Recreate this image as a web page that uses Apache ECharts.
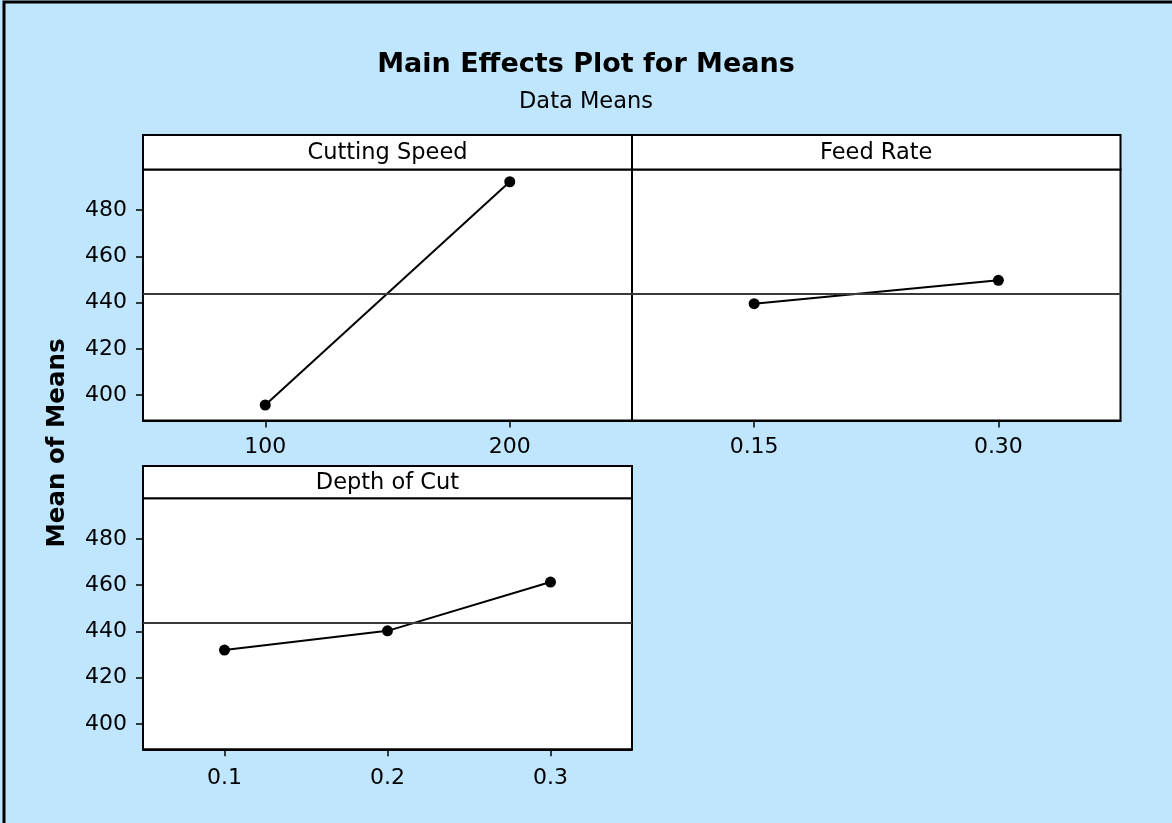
<!DOCTYPE html>
<html>
<head>
<meta charset="utf-8">
<style>
  html, body { margin: 0; padding: 0; background: #BFE6FD; }
  #chart { width: 1172px; height: 823px; }
</style>
<script src="https://cdn.jsdelivr.net/npm/echarts@6/dist/echarts.min.js"></script>
</head>
<body>
<div id="chart"></div>
<script>
// ---- Data ----
const panelTitles = ['Cutting Speed', 'Feed Rate', 'Depth of Cut'];
const speedLevels = ['100', '200'];
const speedMeans = [395.7, 492.2];
const feedLevels = ['0.15', '0.30'];
const feedMeans = [439.5, 449.6];
const depthLevels = ['0.1', '0.2', '0.3'];
const depthMeans = [431.9, 440.2, 461.3];
const grandMean = 443.6;
const yTicks = [400, 420, 440, 460, 480];
const yMin = 389, yMax = 497.5;

const FONT = 'DejaVu Sans';
const chart = echarts.init(document.getElementById('chart'));

const grids = [
  { left: 143, top: 169.5, width: 489, height: 251 },
  { left: 632, top: 169.5, width: 488.5, height: 251 },
  { left: 143, top: 498.3, width: 489, height: 251 }
];
const headers = [
  { x: 143, y: 135, w: 489, h: 34.5 },
  { x: 632, y: 135, w: 488.5, h: 34.5 },
  { x: 143, y: 466, w: 489, h: 32.3 }
];
const levels = [speedLevels, feedLevels, depthLevels];
const means = [speedMeans, feedMeans, depthMeans];
const labelMargins = [16, 16, 18];

const xAxes = levels.map((lv, i) => ({
  type: 'category', gridIndex: i, data: lv, boundaryGap: true,
  axisLine: { show: true, lineStyle: { color: '#000', width: 2 } },
  axisTick: { show: true, alignWithLabel: true, length: 7, lineStyle: { color: '#000', width: 1.5 } },
  axisLabel: { color: '#000', fontFamily: FONT, fontSize: 22, margin: labelMargins[i] },
  splitLine: { show: false }
}));
const yAxes = [0, 1, 2].map(i => ({
  type: 'value', gridIndex: i, min: yMin, max: yMax,
  axisLine: { show: true, lineStyle: { color: '#000', width: 2 } },
  axisTick: { show: i !== 1, length: 7, customValues: yTicks, lineStyle: { color: '#000', width: 1.5 } },
  axisLabel: { show: i !== 1, customValues: yTicks, color: '#000', fontFamily: FONT, fontSize: 22, margin: 16 },
  splitLine: { show: false }
}));
const series = means.map((m, i) => ({
  type: 'line', xAxisIndex: i, yAxisIndex: i, data: m,
  symbol: 'circle', symbolSize: 11,
  itemStyle: { color: '#000' },
  lineStyle: { color: '#000', width: 2 },
  markLine: {
    silent: true, symbol: 'none', label: { show: false },
    lineStyle: { color: '#3a3a3a', width: 2, type: 'solid' },
    data: [{ yAxis: grandMean }]
  },
  z: 3
}));

const graphic = [];
headers.forEach((h, i) => {
  graphic.push({
    type: 'rect', shape: { x: h.x, y: h.y, width: h.w, height: h.h },
    style: { fill: '#fff', stroke: '#000', lineWidth: 2 }, z: 10
  });
  graphic.push({
    type: 'text', x: h.x + h.w / 2, y: h.y + h.h / 2 + 1,
    style: { text: panelTitles[i], fill: '#000', font: '22.5px "DejaVu Sans"', textAlign: 'center', textVerticalAlign: 'middle' },
    z: 11
  });
});
graphic.push({
  type: 'text', x: 57.5, y: 443, rotation: Math.PI / 2,
  style: { text: 'Mean of Means', fill: '#000', font: 'bold 24.5px "DejaVu Sans"', textAlign: 'center', textVerticalAlign: 'middle' },
  z: 11
});
graphic.push({
  type: 'polyline', shape: { points: [[4, 830], [4, 2], [1180, 2]] },
  style: { stroke: '#000', lineWidth: 3, fill: null }, z: 12
});

chart.setOption({
  backgroundColor: '#BFE6FD',
  animation: false,
  title: {
    text: 'Main Effects Plot for Means',
    subtext: 'Data Means',
    left: 'center', top: 44, itemGap: 8,
    textStyle: { fontFamily: FONT, fontWeight: 'bold', fontSize: 27, color: '#000', lineHeight: 32 },
    subtextStyle: { fontFamily: FONT, fontSize: 22.5, color: '#000', lineHeight: 26 }
  },
  grid: grids.map(g => Object.assign({ show: true, backgroundColor: '#fff', borderColor: '#000', borderWidth: 2 }, g)),
  xAxis: xAxes,
  yAxis: yAxes,
  series: series,
  graphic: graphic
});
</script>
</body>
</html>
